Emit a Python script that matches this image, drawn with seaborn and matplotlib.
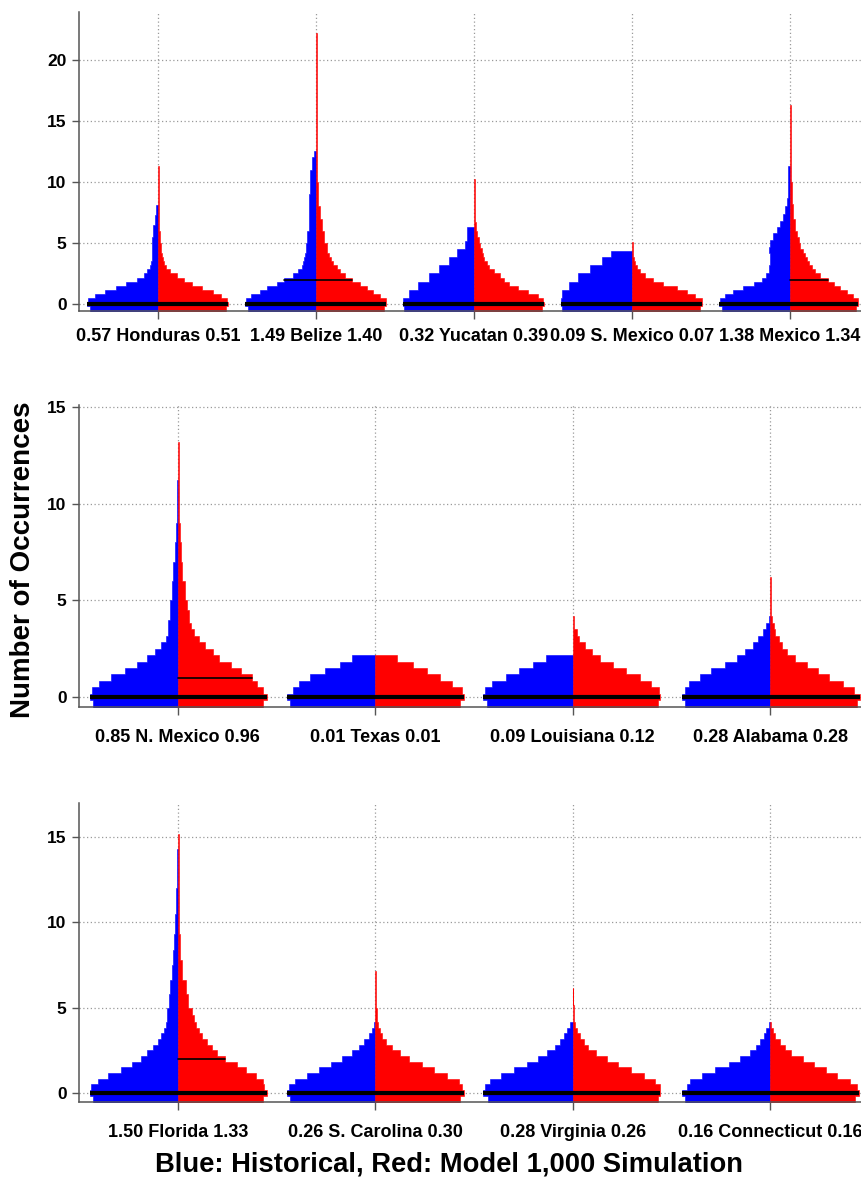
import matplotlib
matplotlib.use("Agg")
import matplotlib.pyplot as plt
import seaborn as sns

# ---- data -------------------------------------------------------------
# every bean side is a stepped density: widths of rows 1/3 occurrence tall
# (first entry = row below zero), then (row top, width) pairs for the tail
panel1_names = ["Honduras", "Belize", "Yucatan", "S. Mexico", "Mexico"]
panel1_hist_mean = [0.57, 1.49, 0.32, 0.09, 1.38]
panel1_model_mean = [0.51, 1.40, 0.39, 0.07, 1.34]

panel2_names = ["N. Mexico", "Texas", "Louisiana", "Alabama"]
panel2_hist_mean = [0.85, 0.01, 0.09, 0.28]
panel2_model_mean = [0.96, 0.01, 0.12, 0.28]

panel3_names = ["Florida", "S. Carolina", "Virginia", "Connecticut"]
panel3_hist_mean = [1.50, 0.26, 0.28, 0.16]
panel3_model_mean = [1.33, 0.30, 0.26, 0.16]

# historical (blue) rows
honduras_hist = [0.43, 0.447, 0.44, 0.40, 0.335, 0.266, 0.20, 0.135, 0.089, 0.072, 0.05, 0.045]
honduras_hist_tail = [(4.2, 0.04), (5.5, 0.036), (6.5, 0.03), (7.3, 0.022), (8.1, 0.01)]
belize_hist = [0.43, 0.45, 0.445, 0.413, 0.354, 0.312, 0.249, 0.20, 0.143, 0.112, 0.09, 0.08, 0.075, 0.07]
belize_hist_tail = [(5, 0.065), (6, 0.055), (7, 0.047), (9, 0.042), (11, 0.04), (12, 0.028), (12.5, 0.01)]
yucatan_hist = [0.44, 0.45, 0.45, 0.41, 0.41, 0.357, 0.357, 0.285, 0.285, 0.22, 0.22,
                0.156, 0.156, 0.105, 0.105, 0.057, 0.057]
yucatan_hist_tail = [(5.8, 0.047), (6.34, 0.047)]
smexico_hist = [0.44, 0.45, 0.45, 0.44, 0.44, 0.40, 0.40, 0.34, 0.34, 0.266, 0.266, 0.19, 0.19, 0.13]
smexico_hist_tail = [(4.3, 0.13)]
mexico_hist = [0.43, 0.45, 0.44, 0.41, 0.36, 0.30, 0.23, 0.18, 0.15, 0.135, 0.13, 0.128, 0.127, 0.127]
mexico_hist_tail = [(4.7, 0.13), (5.2, 0.125), (5.8, 0.11), (6.3, 0.085), (6.8, 0.062), (7.4, 0.042),
                    (8.0, 0.03), (8.7, 0.02), (10, 0.015), (11.3, 0.012)]
nmexico_hist = [0.427, 0.446, 0.435, 0.398, 0.336, 0.268, 0.204, 0.154, 0.116, 0.086, 0.061, 0.049]
nmexico_hist_tail = [(4, 0.05), (5, 0.04), (6, 0.03), (7, 0.022), (8, 0.015), (9, 0.01), (11.2, 0.006)]
texas_hist = [0.43, 0.447, 0.414, 0.388, 0.329, 0.253, 0.181, 0.118]
texas_hist_tail = []
louisiana_hist = [0.434, 0.454, 0.446, 0.407, 0.338, 0.272, 0.20, 0.137]
louisiana_hist_tail = []
alabama_hist = [0.43, 0.447, 0.43, 0.41, 0.358, 0.30, 0.228, 0.169, 0.127, 0.088, 0.064, 0.037, 0.02, 0.008]
alabama_hist_tail = []
florida_hist = [0.427, 0.446, 0.437, 0.403, 0.353, 0.289, 0.23, 0.187, 0.154, 0.125, 0.10, 0.086, 0.069, 0.061]
florida_hist_tail = [(5, 0.055), (5.8, 0.045), (6.6, 0.037), (7.5, 0.03), (8.4, 0.024), (9.3, 0.018),
                     (10.5, 0.012), (12, 0.008), (14.3, 0.005)]
scarolina_hist = [0.43, 0.447, 0.435, 0.405, 0.346, 0.287, 0.224, 0.169, 0.118, 0.084, 0.059, 0.034, 0.017, 0.008]
scarolina_hist_tail = []
virginia_hist = [0.43, 0.454, 0.445, 0.417, 0.361, 0.299, 0.231, 0.176, 0.128, 0.091, 0.066, 0.044, 0.029, 0.015]
virginia_hist_tail = []
connecticut_hist = [0.43, 0.447, 0.422, 0.405, 0.346, 0.278, 0.211, 0.152, 0.101, 0.071, 0.051, 0.034, 0.02, 0.008]
connecticut_hist_tail = []

# model (red) rows
honduras_model = [0.43, 0.445, 0.435, 0.40, 0.35, 0.276, 0.213, 0.165, 0.118, 0.076, 0.05, 0.038, 0.03, 0.024]
honduras_model_tail = [(5, 0.017), (6, 0.012), (8, 0.007), (11.26, 0.005)]
belize_model = [0.43, 0.445, 0.443, 0.405, 0.363, 0.325, 0.278, 0.226, 0.184, 0.152, 0.13, 0.11, 0.095, 0.085]
belize_model_tail = [(5, 0.068), (6, 0.05), (7, 0.035), (8, 0.025), (10, 0.013), (12.5, 0.007), (22.2, 0.005)]
yucatan_model = [0.43, 0.443, 0.439, 0.407, 0.344, 0.28, 0.224, 0.19, 0.165, 0.127, 0.097, 0.08, 0.065, 0.055]
yucatan_model_tail = [(4.6, 0.048), (5.0, 0.04), (5.5, 0.03), (6.0, 0.021), (6.7, 0.01), (10.2, 0.005)]
smexico_model = [0.43, 0.445, 0.44, 0.40, 0.346, 0.283, 0.198, 0.135, 0.082, 0.05, 0.03, 0.02, 0.012, 0.008]
smexico_model_tail = [(5.1, 0.005)]
mexico_model = [0.42, 0.432, 0.43, 0.40, 0.36, 0.316, 0.28, 0.243, 0.19, 0.158, 0.137, 0.12, 0.11, 0.095]
mexico_model_tail = [(4.5, 0.084), (5, 0.063), (5.5, 0.055), (6, 0.042), (7, 0.03), (8.2, 0.021),
                     (10, 0.01), (16.3, 0.005)]
nmexico_model = [0.43, 0.45, 0.43, 0.403, 0.378, 0.319, 0.268, 0.209, 0.176, 0.137, 0.108, 0.083, 0.066]
nmexico_model_tail = [(4.5, 0.055), (5, 0.049), (6, 0.035), (7, 0.024), (8, 0.016), (9, 0.01),
                      (11, 0.007), (13.2, 0.004)]
texas_model = [0.43, 0.447, 0.44, 0.388, 0.33, 0.26, 0.19, 0.11]
texas_model_tail = []
louisiana_model = [0.43, 0.444, 0.437, 0.398, 0.339, 0.272, 0.204, 0.14, 0.095, 0.061, 0.032, 0.02]
louisiana_model_tail = [(4.19, 0.008)]
alabama_model = [0.44, 0.456, 0.422, 0.368, 0.30, 0.24, 0.186, 0.127, 0.084, 0.059, 0.042, 0.025, 0.017, 0.01]
alabama_model_tail = [(6.19, 0.004)]
florida_model = [0.43, 0.45, 0.437, 0.43, 0.395, 0.344, 0.302, 0.238, 0.2, 0.175, 0.147, 0.125, 0.108, 0.091]
florida_model_tail = [(4.6, 0.08), (5, 0.071), (5.8, 0.052), (6.6, 0.04), (7.8, 0.024), (9.3, 0.012),
                      (11.3, 0.006), (15.2, 0.004)]
scarolina_model = [0.43, 0.447, 0.44, 0.422, 0.363, 0.295, 0.236, 0.169, 0.123, 0.084, 0.056, 0.034, 0.022, 0.0135]
scarolina_model_tail = [(4.5, 0.01), (5, 0.008), (7.13, 0.004)]
virginia_model = [0.43, 0.444, 0.44, 0.415, 0.36, 0.297, 0.23, 0.174, 0.12, 0.078, 0.056, 0.035, 0.022, 0.01]
virginia_model_tail = [(5.15, 0.006), (6.16, 0.003)]
connecticut_model = [0.43, 0.447, 0.44, 0.405, 0.338, 0.284, 0.219, 0.165, 0.105, 0.076, 0.047, 0.025, 0.0135, 0.005]
connecticut_model_tail = []

# medians of each side (0 is covered by the overall line)
panel1_hist_median = [0, 2, 0, 0, 0]
panel1_model_median = [0, 2, 0, 0, 2]
panel2_hist_median = [0, 0, 0, 0]
panel2_model_median = [1, 0, 0, 0]
panel3_hist_median = [0, 0, 0, 0]
panel3_model_median = [2, 0, 0, 0]

panel1_hist = [(honduras_hist, honduras_hist_tail), (belize_hist, belize_hist_tail),
               (yucatan_hist, yucatan_hist_tail), (smexico_hist, smexico_hist_tail),
               (mexico_hist, mexico_hist_tail)]
panel1_model = [(honduras_model, honduras_model_tail), (belize_model, belize_model_tail),
                (yucatan_model, yucatan_model_tail), (smexico_model, smexico_model_tail),
                (mexico_model, mexico_model_tail)]
panel2_hist = [(nmexico_hist, nmexico_hist_tail), (texas_hist, texas_hist_tail),
               (louisiana_hist, louisiana_hist_tail), (alabama_hist, alabama_hist_tail)]
panel2_model = [(nmexico_model, nmexico_model_tail), (texas_model, texas_model_tail),
                (louisiana_model, louisiana_model_tail), (alabama_model, alabama_model_tail)]
panel3_hist = [(florida_hist, florida_hist_tail), (scarolina_hist, scarolina_hist_tail),
               (virginia_hist, virginia_hist_tail), (connecticut_hist, connecticut_hist_tail)]
panel3_model = [(florida_model, florida_model_tail), (scarolina_model, scarolina_model_tail),
                (virginia_model, virginia_model_tail), (connecticut_model, connecticut_model_tail)]

# ---- style ------------------------------------------------------------
sns.set_theme(style="ticks")
plt.rcParams['font.family'] = ['Liberation Sans', 'DejaVu Sans']
plt.rcParams['font.weight'] = 'bold'
plt.rcParams['text.color'] = 'black'
plt.rcParams['xtick.labelcolor'] = 'black'
plt.rcParams['ytick.labelcolor'] = 'black'

W, H = 861, 1186
fig = plt.figure(figsize=(W / 100, H / 100), dpi=100)


def side_profile(rows, tail):
    # bin edges of the stepped bean, bottom row starts below the axis
    edges = [-5 / 6] + [-1 / 6 + k / 3 for k in range(len(rows))] + [t for t, _ in tail]
    widths = list(rows) + [w for _, w in tail]
    return edges, widths


def width_at(edges, widths, y):
    for i, w in enumerate(widths):
        if edges[i] <= y < edges[i + 1]:
            return w
    return 0


def draw_panel(box, ylim, yticks, names, hmean, mmean, hist, model, hmed, mmed, xpad):
    left, top, right, bottom = box
    ax = fig.add_axes([left / W, 1 - bottom / H, (right - left) / W, (bottom - top) / H])
    xs = list(range(1, len(names) + 1))
    for x, (hr, ht), (mr, mt), hm, mm in zip(xs, hist, model, hmed, mmed):
        he, hw = side_profile(hr, ht)
        me, mw = side_profile(mr, mt)
        ax.fill_betweenx(he, x, [x - w for w in hw + hw[-1:]], step='post',
                         facecolor='#0000ff', edgecolor='#0000ff', lw=0.4, zorder=2)
        ax.fill_betweenx(me, x, [x + w for w in mw + mw[-1:]], step='post',
                         facecolor='#ff0000', edgecolor='#ff0000', lw=0.4, zorder=2)
        # overall line at zero
        ax.plot([x - width_at(he, hw, 0), x + width_at(me, mw, 0)], [0, 0],
                color='black', lw=3, solid_capstyle='butt', zorder=3)
        if hm > 0:
            ax.plot([x - width_at(he, hw, hm), x], [hm, hm], color='black', lw=1.2, zorder=3)
        if mm > 0:
            ax.plot([x, x + width_at(me, mw, mm)], [mm, mm], color='black', lw=1.2, zorder=3)
    ax.set_xlim(0.5, len(names) + 0.5)
    ax.set_ylim(*ylim)
    ax.set_xticks(xs)
    ax.set_xticklabels([f"{a:.2f} {n} {b:.2f}" for a, b, n in zip(hmean, mmean, names)],
                       fontsize=13, fontweight='bold', color='black')
    ax.set_yticks(yticks)
    ax.set_yticklabels([str(t) for t in yticks], fontsize=12.5, fontweight='bold', color='black')
    ax.grid(True, linestyle=(0, (1, 2)), color='#9a9a9a', lw=0.9)
    ax.set_axisbelow(True)
    sns.despine(ax=ax)
    for s in ('left', 'bottom'):
        ax.spines[s].set_color('#555555')
        ax.spines[s].set_linewidth(1.1)
    ax.tick_params(axis='x', length=6, width=1, color='#555555', pad=xpad)
    ax.tick_params(axis='y', length=5, width=1, color='#555555', pad=4)
    ax.set_facecolor('white')
    return ax


draw_panel((79, 12, 869, 311), (-0.57, 23.9), [0, 5, 10, 15, 20],
           panel1_names, panel1_hist_mean, panel1_model_mean, panel1_hist, panel1_model,
           panel1_hist_median, panel1_model_median, 6.5)
draw_panel((79, 405, 869, 707), (-0.52, 15.1), [0, 5, 10, 15],
           panel2_names, panel2_hist_mean, panel2_model_mean, panel2_hist, panel2_model,
           panel2_hist_median, panel2_model_median, 9.5)
draw_panel((79, 803, 869, 1102), (-0.53, 17.0), [0, 5, 10, 15],
           panel3_names, panel3_hist_mean, panel3_model_mean, panel3_hist, panel3_model,
           panel3_hist_median, panel3_model_median, 9.5)

fig.text(23 / W, 1 - 560 / H, "Number of Occurrences", rotation=90, fontsize=20,
         fontweight='bold', ha='center', va='center', color='black')
fig.text(449 / W, 1 - 1165 / H, "Blue: Historical, Red: Model 1,000 Simulation",
         fontsize=19.7, fontweight='bold', ha='center', va='center', color='black')

fig.savefig("out.png", dpi=100, facecolor='white')
